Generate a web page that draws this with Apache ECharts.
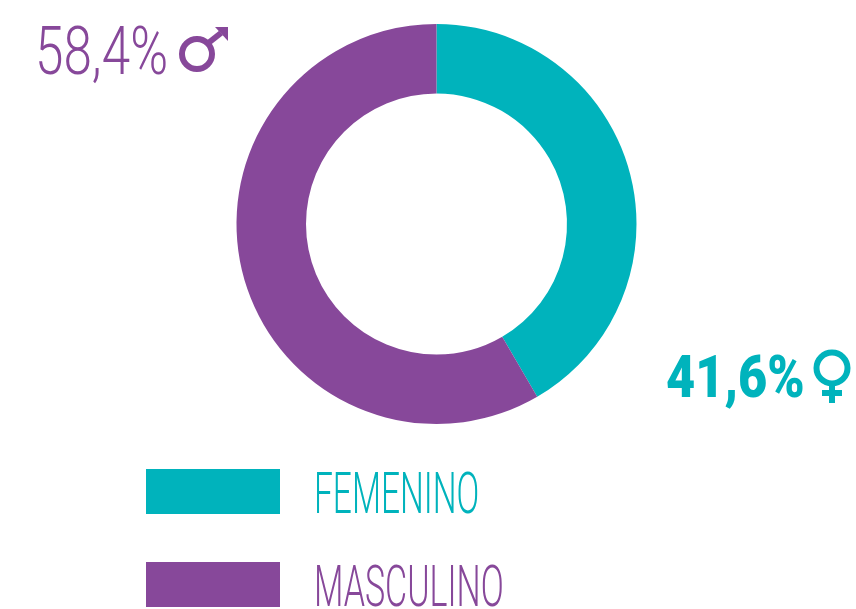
<!DOCTYPE html>
<html><head><meta charset="utf-8">
<style>html,body{margin:0;padding:0;background:#fff}#c{width:856px;height:609px}</style>
<script src="https://cdn.jsdelivr.net/npm/echarts@6/dist/echarts.min.js"></script>
</head><body><div id="c"></div>
<script>
const categories = ['FEMENINO', 'MASCULINO'];
const values = [41.6, 58.4];
const valueLabels = ['41,6%', '58,4%'];
const colors = ['#00B3BC', '#87489A'];

const chart = echarts.init(document.getElementById('c'), null, {renderer: 'canvas'});
function label(text, x, y, size, weight, sx, color) {
  return {type: 'text', x: x, y: y, scaleX: sx, silent: true, style: {
    text: text, x: 0, y: 0, fill: color, textVerticalAlign: 'middle', textAlign: 'left',
    font: weight + ' ' + size + 'px Roboto'
  }};
}
chart.setOption({
  animation: false,
  backgroundColor: '#fff',
  legend: {
    show: true, left: 146, top: 469, orient: 'vertical', icon: 'rect', padding: 0,
    itemWidth: 134, itemHeight: 45, itemGap: 48, selectedMode: false,
    formatter: () => '', data: categories
  },
  series: [{
    type: 'pie', center: [436.5, 224], radius: [130.5, 200], startAngle: 90, clockwise: true,
    label: {show: false}, labelLine: {show: false}, silent: true,
    data: categories.map((n, i) => ({name: n, value: values[i], itemStyle: {color: colors[i]}}))
  }],
  graphic: [
    label(valueLabels[1], 35, 57, 67, 300, 0.765, colors[1]),
    label(valueLabels[0], 666, 382, 60, 900, 0.84, colors[0]),
    label(categories[0], 314, 498, 58, 300, 0.578, colors[0]),
    label(categories[1], 314, 591, 58, 300, 0.586, colors[1]),
    {type: 'circle', silent: true, shape: {cx: 197, cy: 54, r: 15}, style: {fill: 'none', stroke: colors[1], lineWidth: 6}},
    {type: 'line', silent: true, shape: {x1: 207, y1: 44, x2: 221, y2: 33}, style: {stroke: colors[1], lineWidth: 6}},
    {type: 'polygon', silent: true, shape: {points: [[215, 27], [228, 27], [228, 41]]}, style: {fill: colors[1]}},
    {type: 'circle', silent: true, shape: {cx: 832, cy: 368, r: 15.5}, style: {fill: 'none', stroke: colors[0], lineWidth: 6}},
    {type: 'line', silent: true, shape: {x1: 832, y1: 384, x2: 832, y2: 403}, style: {stroke: colors[0], lineWidth: 6}},
    {type: 'line', silent: true, shape: {x1: 822, y1: 393, x2: 842, y2: 393}, style: {stroke: colors[0], lineWidth: 6}}
  ]
});
</script></body></html>
